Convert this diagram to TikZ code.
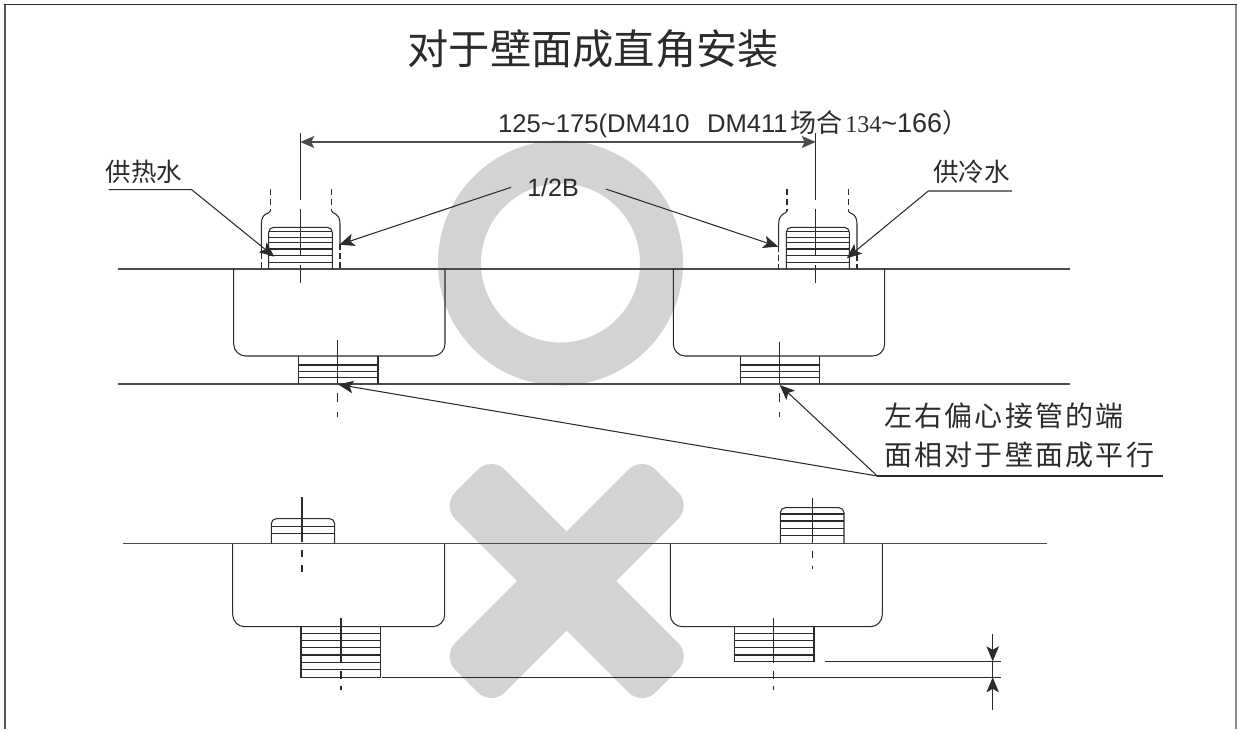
\documentclass[tikz,border=0pt]{standalone}
\usepackage{fontspec}
\setmainfont{Liberation Sans}
\newfontfamily\cjk{Noto Sans CJK SC}
\newfontfamily\serifdig{Liberation Serif}
\usetikzlibrary{arrows.meta}
\definecolor{ink}{HTML}{2B2B2B}
\definecolor{wm}{HTML}{D1D3D4}
\tikzset{
  part/.style={draw=ink,line width=1.05pt},
  wall/.style={draw=ink!85,line width=1.3pt},
  centre/.style={draw=ink,line width=1.05pt},
  hatch/.style={draw=ink,line width=1.05pt},
  leader/.style={draw=ink,line width=1.05pt,-{Stealth[length=15pt,width=12.5pt,inset=3.5pt]}},
  dimline/.style={draw=ink!85,line width=1.4pt,{Stealth[length=14pt,width=12pt,inset=3pt]}-{Stealth[length=14pt,width=12pt,inset=3pt]}},
  label/.style={inner sep=0pt,text=ink},
}
\begin{document}
\begin{tikzpicture}[x=1pt,y=-1pt]
\useasboundingbox (0,0) rectangle (1237,729);
% watermarks
\fill[wm,even odd rule] (560.5,263) circle[radius=122.5pt] (560.5,263) circle[radius=79.5pt];
\begin{scope}[shift={(566.7,581)}]
  \fill[wm,rounded corners=19pt,rotate=45] (-141.6,-35) rectangle (141.6,35);
  \fill[wm,rounded corners=19pt,rotate=-45] (-141.6,-35) rectangle (141.6,35);
\end{scope}
% frame
\draw[draw=ink!80,line width=1.5pt] (5,729) -- (5,4.5);
\draw[draw=ink,line width=1.3pt] (4.3,4.5) -- (1236.5,4.5);
\draw[draw=ink!55,line width=1.3pt] (1236,4.5) -- (1236,729);
% walls
\draw[wall] (118,269) -- (1070,269);
\draw[wall] (118,384) -- (1070,384);
\draw[wall] (122.7,543.3) -- (1046.7,543.3);
% basins
\draw[part,rounded corners=12pt] (233.7,269) -- (233.7,356) -- (445,356) -- (445,269);
\draw[part,rounded corners=12pt] (673.3,269) -- (673.3,356) -- (884.7,356) -- (884.7,269);
\draw[part,rounded corners=12pt] (232.7,543.3) -- (232.7,626.7) -- (444.7,626.7) -- (444.7,543.3);
\draw[part,rounded corners=12pt] (670.3,543.3) -- (670.3,626.7) -- (882.3,626.7) -- (882.3,543.3);
% upper nuts, top row
\draw[part,rounded corners=5pt] (268.7,269) -- (268.7,227.3) -- (332.3,227.3) -- (332.3,269);
\foreach \y in {231.7,237.3,242.7,249,255.7,262.3} \draw[hatch] (268.7,\y) -- (332.3,\y);
\draw[part,rounded corners=5pt] (786.3,269) -- (786.3,227.3) -- (849.3,227.3) -- (849.3,269);
\foreach \y in {231.7,237.3,242.7,249,255.7,262.3} \draw[hatch] (786.3,\y) -- (849.3,\y);
% shells, top row
\draw[part,dashed,dash pattern=on 6pt off 4pt] (270.3,189) -- (270.3,211);
\draw[part,dashed,dash pattern=on 6pt off 4pt] (331.7,189) -- (331.7,211);
\draw[part] (270.3,211) .. controls (270.3,214) and (261.3,212) .. (261.3,224) -- (261.3,253);
\draw[part] (331.7,211) .. controls (331.7,214) and (340,212) .. (340,224) -- (340,244);
\draw[part,dashed,dash pattern=on 6pt off 3pt] (261.3,253) -- (261.3,269);
\draw[part,dashed,dash pattern=on 6pt off 3pt] (340,244) -- (340,269);
\draw[part,dashed,dash pattern=on 6pt off 4pt] (787,189) -- (787,211);
\draw[part,dashed,dash pattern=on 6pt off 4pt] (848.3,189) -- (848.3,211);
\draw[part] (787,211) .. controls (787,214) and (778.7,212) .. (778.7,224) -- (778.7,246);
\draw[part] (848.3,211) .. controls (848.3,214) and (857,212) .. (857,224) -- (857,255);
\draw[part,dashed,dash pattern=on 6pt off 3pt] (778.7,246) -- (778.7,269);
\draw[part,dashed,dash pattern=on 6pt off 3pt] (857,255) -- (857,269);
% lower nuts, top row
\draw[part] (298.7,356) -- (298.7,384) (378,356) -- (378,384);
\foreach \y in {365,371.7,377.7} \draw[hatch] (298.7,\y) -- (378,\y);
\draw[part] (740.3,356) -- (740.3,384) (819.7,356) -- (819.7,384);
\foreach \y in {365,371.7,377.7} \draw[hatch] (740.3,\y) -- (819.7,\y);
% centre lines, top row
\draw[centre] (300.3,133) -- (300.3,200) (300.3,209) -- (300.3,255) (300.3,265) -- (300.3,283);
\draw[centre] (815.7,133) -- (815.7,200) (815.7,209) -- (815.7,255) (815.7,265) -- (815.7,283);
\draw[centre] (337.7,340) -- (337.7,384) (337.7,393) -- (337.7,402) (337.7,412) -- (337.7,417);
\draw[centre] (779.7,342) -- (779.7,384) (779.7,393) -- (779.7,402) (779.7,412) -- (779.7,417);
% bottom row nuts
\draw[part,rounded corners=5pt] (271.3,543.3) -- (271.3,518.7) -- (334.7,518.7) -- (334.7,543.3);
\foreach \y in {526.7,533.7} \draw[hatch] (271.3,\y) -- (334.7,\y);
\draw[part,rounded corners=5pt] (780.3,543.3) -- (780.3,507.7) -- (844,507.7) -- (844,543.3);
\foreach \y in {514,521,528.3,535.3} \draw[hatch] (780.3,\y) -- (844,\y);
\draw[part] (301,626.7) rectangle (380.3,677.3);
\foreach \y in {633.3,640.7,647.7,655,662.3,669.3} \draw[hatch] (301,\y) -- (380.3,\y);
\draw[part] (734.7,626.7) rectangle (814,661.3);
\foreach \y in {633.3,640.7,647.7,655} \draw[hatch] (734.7,\y) -- (814,\y);
% centre lines, bottom row
\draw[centre] (302,497.3) -- (302,541.7) (302,550) -- (302,557) (302,565) -- (302,571.7);
\draw[centre] (812.3,498.3) -- (812.3,543) (812.3,550.7) -- (812.3,558.3) (812.3,566) -- (812.3,569);
\draw[centre] (341,618.3) -- (341,663.3) (341,671) -- (341,679) (341,686) -- (341,690);
\draw[centre] (773.7,618.3) -- (773.7,663.3) (773.7,671) -- (773.7,679) (773.7,686) -- (773.7,690);
% coordinates for connectors
\coordinate (dimL) at (300.3,142);
\coordinate (dimR) at (815.7,142);
\coordinate (hotA) at (108.7,189.7);
\coordinate (hotB) at (191.7,189.7);
\coordinate (hotT) at (274.3,256.7);
\coordinate (coldA) at (1012,191);
\coordinate (coldB) at (928.3,191);
\coordinate (coldT) at (846.7,258.3);
\coordinate (halfLS) at (511,187.3);
\coordinate (halfLT) at (339.3,244.7);
\coordinate (halfRS) at (605.7,189);
\coordinate (halfRT) at (778.3,246.7);
\coordinate (noteE) at (1162.7,476);
\coordinate (noteS) at (877.3,476);
\coordinate (noteL) at (338.3,384.5);
\coordinate (noteR) at (779.7,385);
\coordinate (gapA1) at (382.3,677.3);
\coordinate (gapA2) at (1001,677.3);
\coordinate (gapB1) at (824.7,661.3);
\coordinate (gapB2) at (1001,661.3);
\coordinate (gapTopS) at (992.7,634);
\coordinate (gapTopT) at (992.7,661.3);
\coordinate (gapBotS) at (992.7,709.7);
\coordinate (gapBotT) at (992.7,677.3);
% connectors
\draw[dimline] (dimL) -- (dimR);
\draw[leader] (hotA) -- (hotB) -- (hotT);
\draw[leader] (coldA) -- (coldB) -- (coldT);
\draw[leader] (halfLS) -- (halfLT);
\draw[leader] (halfRS) -- (halfRT);
\draw[part] (noteE) -- (noteS);
\draw[leader] (noteS) -- (noteL);
\draw[leader] (noteS) -- (noteR);
\draw[part] (gapA1) -- (gapA2);
\draw[part] (gapB1) -- (gapB2);
\draw[part] (gapTopT) -- (gapBotT);
\draw[leader] (gapTopS) -- (gapTopT);
\draw[leader] (gapBotS) -- (gapBotT);
% texts
\node[label,font=\cjk\fontsize{41.3}{41.3}\selectfont,anchor=center] (title) at (593.3,48.5) {对于壁面成直角安装};
\node[label,font=\fontsize{25.6}{26}\selectfont,anchor=base west] (dimtext) at (498,132) {125\textasciitilde175(DM410\hspace{17.5pt}DM411\hspace{3pt}{\cjk\fontsize{26}{26}\selectfont 场合}\hspace{2.5pt}{\serifdig\fontsize{24}{24}\selectfont 134}{\fontsize{27}{27}\selectfont\textasciitilde166}{\cjk\fontsize{26}{26}\selectfont ）}};
\node[label,font=\fontsize{25}{25}\selectfont,anchor=center] (half) at (553,187.5) {1/2B};
\node[label,font=\cjk\fontsize{25.5}{25.5}\selectfont,anchor=center] (hot) at (144,171.5) {供热水};
\node[label,font=\cjk\fontsize{25.5}{25.5}\selectfont,anchor=center] (cold) at (971.5,171.5) {供冷水};
\node[label,font=\cjk\fontsize{28}{28}\selectfont\addfontfeature{LetterSpace=8},anchor=west] (noteone) at (884,416) {左右偏心接管的端};
\node[label,font=\cjk\fontsize{28}{28}\selectfont\addfontfeature{LetterSpace=8},anchor=west] (notetwo) at (884,455) {面相对于壁面成平行};
\end{tikzpicture}
\end{document}
